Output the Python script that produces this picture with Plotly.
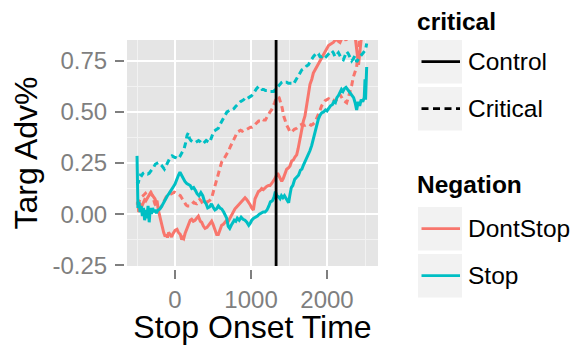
import plotly.graph_objects as go

# ---------------- data ----------------
DC_T = [-500,-488,-478,-465,-450,-434,-415,-400,-385,-368,
        -350,-330,-303,-285,-265,-250,-237,-220,-205,-193,
        -175,-160,-149,-130,-115,-100,-85,-65,-45,-25,
        0,26,45,70,88,100,114,132,155,175,
        200,219,240,263,285,307,333,351,375,395,
        421,440,461,482,500,526,548,570,592,614,
        636,658,680,702,724,746,768,789,811,833,
        855,877,899,921,945,965,990,1009,1031,1053,
        1075,1097,1118,1140,1162,1185,1206,1230,1250,1272,
        1294,1316,1335,1350,1370,1390,1404,1425,1447,1469,
        1490,1513,1535,1557,1580,1601,1620,1645,1667,1689,
        1710,1732,1755,1776,1800,1820,1842,1864,1886,1908,
        1930,1952,1975,1996,2020,2040,2060,2083,2105,2127,
        2150,2171,2195,2220,2250,2280,2310,2340,2370,2390,
        2405,2415,2430,2445,2470,2500,2520]
DC_V = [0.05,0.06,0.01,0.03,0.045,0.04,0.06,0.07,0.065,0.075,
        0.09,0.1,0.095,0.085,0.075,0.06,0.065,0.02,-0.005,-0.02,
        -0.06,-0.085,-0.09,-0.11,-0.1,-0.115,-0.09,-0.1,-0.112,-0.095,
        -0.08,-0.075,-0.09,-0.1,-0.125,-0.115,-0.12,-0.095,-0.07,-0.05,
        -0.03,-0.025,-0.035,-0.03,-0.02,-0.01,-0.035,-0.04,-0.06,-0.07,
        -0.065,-0.055,-0.04,-0.035,-0.05,-0.075,-0.1,-0.1,-0.08,-0.055,
        -0.05,-0.04,-0.03,-0.035,-0.02,-0.005,0.015,0.026,0.035,0.045,
        0.05,0.06,0.075,0.08,0.07,0.06,0.045,0.03,0.02,0.075,
        0.095,0.11,0.115,0.125,0.12,0.13,0.135,0.14,0.14,0.15,
        0.16,0.175,0.19,0.2,0.185,0.17,0.16,0.175,0.2,0.22,
        0.225,0.235,0.26,0.265,0.28,0.29,0.32,0.37,0.42,0.455,
        0.48,0.53,0.59,0.635,0.66,0.69,0.705,0.72,0.74,0.755,
        0.77,0.785,0.8,0.815,0.825,0.83,0.835,0.84,0.85,0.855,
        0.845,0.84,0.86,0.87,0.85,0.88,0.87,0.9,0.87,0.82,
        0.76,0.73,0.8,0.88,0.93,0.96,0.98]

DK_T = [-500,-480,-460,-440,-420,-400,-380,-360,-340,-320,
        -303,-285,-265,-245,-225,-205,-193,-175,-155,-135,
        -115,-95,-75,-55,-30,-10,4,25,45,70,
        95,120,145,165,180,200,225,245,265,285,
        305,325,345,365,385,405,420,440,460,482,
        505,526,548,570,592,614,636,660,684,705,
        728,750,772,794,816,840,862,884,904,926,
        948,970,992,1014,1035,1057,1080,1100,1122,1145,
        1167,1189,1210,1230,1250,1270,1290,1310,1330,1350,
        1370,1390,1410,1430,1450,1470,1491,1510,1530,1550,
        1570,1600,1625,1645,1670,1690,1715,1740,1765,1790,
        1815,1842,1865,1886,1910,1930,1955,1975,1996,2020,
        2040,2060,2083,2105,2127,2150,2171,2195,2215,2240,
        2259,2280,2303,2325,2346,2368,2390,2405,2415,2425,2440]
DK_V = [0.045,0.06,0.075,0.085,0.09,0.1,0.105,0.11,0.115,0.11,
        0.095,0.075,0.05,0.035,0.025,0.025,0.03,0.04,0.055,0.075,
        0.085,0.09,0.095,0.1,0.105,0.107,0.105,0.1,0.095,0.09,
        0.075,0.06,0.045,0.04,0.04,0.04,0.05,0.058,0.052,0.05,
        0.06,0.072,0.065,0.05,0.055,0.06,0.058,0.062,0.068,0.08,
        0.11,0.14,0.17,0.205,0.23,0.255,0.265,0.28,0.29,0.31,
        0.33,0.345,0.36,0.38,0.4,0.405,0.41,0.405,0.41,0.41,
        0.415,0.42,0.425,0.425,0.43,0.44,0.45,0.455,0.455,0.465,
        0.46,0.46,0.475,0.49,0.5,0.51,0.525,0.545,0.565,0.575,
        0.57,0.55,0.52,0.48,0.455,0.435,0.42,0.405,0.4,0.41,
        0.415,0.42,0.43,0.435,0.44,0.435,0.435,0.44,0.44,0.435,
        0.44,0.45,0.47,0.485,0.51,0.53,0.545,0.555,0.56,0.565,
        0.56,0.565,0.56,0.55,0.56,0.575,0.585,0.57,0.555,0.55,
        0.545,0.57,0.595,0.63,0.67,0.7,0.72,0.78,0.83,0.86,0.9]

SC_T = [-500,-488,-475,-460,-445,-430,-415,-400,-385,-370,
        -355,-340,-325,-310,-295,-280,-265,-245,-225,-200,
        -180,-160,-140,-120,-100,-80,-60,-40,-20,0,
        20,45,65,85,105,130,155,180,200,220,
        245,270,290,315,340,365,390,410,430,455,
        480,500,525,545,570,592,615,640,660,680,
        700,720,740,760,780,800,820,845,870,895,
        920,945,970,990,1010,1035,1060,1085,1110,1135,
        1160,1185,1210,1235,1255,1280,1300,1320,1340,1360,
        1382,1400,1420,1440,1460,1480,1495,1510,1530,1550,
        1575,1600,1625,1650,1670,1690,1710,1732,1755,1775,
        1798,1820,1842,1865,1886,1910,1930,1955,1980,2000,
        2020,2045,2070,2090,2110,2130,2150,2170,2190,2210,
        2230,2250,2270,2290,2310,2330,2350,2370,2390,2410,
        2430,2450,2470,2490,2500,2507,2513,2518,2522]
SC_V = [0.285,0.03,0.06,0.01,0.04,-0.01,0.03,-0.03,0.02,-0.02,
        0.04,-0.04,0.03,0.0,0.03,0.01,0.02,0.005,0.02,0.025,
        0.035,0.05,0.065,0.08,0.09,0.1,0.11,0.12,0.135,0.147,
        0.17,0.19,0.205,0.19,0.175,0.16,0.15,0.145,0.14,0.125,
        0.13,0.115,0.1,0.09,0.105,0.09,0.06,0.05,0.03,0.035,
        0.05,0.035,0.02,0.025,0.04,0.03,0.025,0.01,-0.005,-0.02,
        -0.06,-0.07,-0.055,-0.045,-0.03,-0.035,-0.02,-0.03,-0.015,-0.025,
        -0.03,-0.04,-0.055,-0.045,-0.03,-0.02,-0.015,-0.01,0.0,0.005,
        0.01,0.01,0.02,0.04,0.06,0.065,0.08,0.11,0.09,0.085,
        0.075,0.09,0.08,0.09,0.075,0.06,0.055,0.09,0.13,0.14,
        0.17,0.18,0.19,0.215,0.22,0.24,0.255,0.27,0.29,0.31,
        0.335,0.37,0.4,0.44,0.465,0.485,0.495,0.5,0.51,0.505,
        0.515,0.53,0.535,0.55,0.545,0.57,0.58,0.6,0.61,0.6,
        0.615,0.62,0.61,0.6,0.59,0.585,0.57,0.545,0.51,0.55,
        0.53,0.56,0.55,0.57,0.66,0.56,0.68,0.6,0.72]

SK_T = [-500,-485,-470,-455,-440,-420,-400,-380,-360,-340,
        -320,-300,-280,-260,-240,-220,-200,-180,-160,-140,
        -120,-100,-80,-60,-40,-20,0,20,40,60,
        80,100,120,140,158,175,190,210,230,250,
        270,290,310,330,350,370,390,410,430,450,
        465,485,509,530,550,570,595,618,640,662,
        684,705,728,750,772,794,816,838,860,882,
        904,926,948,969,990,1010,1030,1053,1075,1101,
        1122,1145,1167,1189,1210,1230,1250,1272,1298,1320,
        1340,1360,1382,1403,1425,1447,1469,1491,1513,1535,
        1557,1580,1601,1625,1645,1667,1689,1710,1732,1754,
        1776,1798,1820,1842,1864,1886,1908,1930,1952,1974,
        1996,2018,2039,2061,2083,2105,2127,2150,2171,2193,
        2215,2237,2259,2280,2303,2325,2346,2368,2390,2412,
        2434,2456,2478,2500,2512,2522]
SK_V = [0.16,0.15,0.175,0.19,0.188,0.2,0.204,0.2,0.196,0.2,
        0.21,0.215,0.23,0.244,0.25,0.252,0.245,0.24,0.23,0.22,
        0.235,0.25,0.265,0.28,0.285,0.28,0.277,0.275,0.27,0.28,
        0.295,0.31,0.32,0.35,0.385,0.398,0.37,0.36,0.355,0.355,
        0.35,0.355,0.36,0.355,0.345,0.345,0.355,0.36,0.355,0.35,
        0.36,0.385,0.405,0.41,0.415,0.42,0.44,0.455,0.475,0.49,
        0.5,0.505,0.51,0.51,0.515,0.525,0.535,0.545,0.55,0.555,
        0.56,0.57,0.565,0.57,0.575,0.58,0.59,0.605,0.615,0.625,
        0.62,0.61,0.61,0.605,0.605,0.6,0.6,0.6,0.6,0.61,
        0.62,0.625,0.635,0.645,0.65,0.645,0.645,0.64,0.64,0.64,
        0.635,0.65,0.665,0.68,0.695,0.705,0.71,0.715,0.725,0.73,
        0.745,0.76,0.77,0.78,0.79,0.785,0.77,0.77,0.775,0.765,
        0.775,0.785,0.79,0.8,0.79,0.77,0.78,0.79,0.775,0.76,
        0.755,0.775,0.795,0.785,0.77,0.75,0.76,0.775,0.745,0.76,
        0.77,0.78,0.79,0.8,0.815,0.835]

STOP_LINE_X = 1330
X_TICKS = [0, 1000, 2000]
X_TICK_LABELS = ["0", "1000", "2000"]
Y_TICKS = [-0.25, 0.0, 0.25, 0.5, 0.75]
Y_TICK_LABELS = ["-0.25", "0.00", "0.25", "0.50", "0.75"]
X_RANGE = [-632, 2671]
Y_RANGE = [-0.254, 0.852]

RED = "#F8766D"
TEAL = "#00BFC4"
FONT = "Liberation Sans, Arial, Helvetica, sans-serif"
DASH = "6px,4px"
LW = 3

# ---------------- geometry ----------------
# The page body has an 8px margin; the figure is sized so it fills the
# 579x345 window from that offset. Coordinates below are window pixels.
OFF = 8
W, H = 579 - OFF, 345 - OFF
PAPER_L, PAPER_R, PAPER_T, PAPER_B = 124, 378, 40, 269   # window px
ML = PAPER_L - OFF
MT = PAPER_T - OFF
MR = W - (PAPER_R - OFF)
MB = H - (PAPER_B - OFF)
PW, PH = PAPER_R - PAPER_L, PAPER_B - PAPER_T


def px_x(px):
    return (px - PAPER_L) / PW


def px_y(py):
    return (PAPER_B - py) / PH


fig = go.Figure()

series = [
    (DC_T, DC_V, RED, "solid"),
    (DK_T, DK_V, RED, DASH),
    (SC_T, SC_V, TEAL, "solid"),
    (SK_T, SK_V, TEAL, DASH),
]
for t, v, c, d in series:
    fig.add_trace(go.Scatter(x=t, y=v, mode="lines", showlegend=False,
                             line=dict(color=c, width=LW, dash=d),
                             hoverinfo="skip"))

fig.add_shape(type="line", xref="x", yref="y domain", x0=STOP_LINE_X,
              x1=STOP_LINE_X, y0=0, y1=1, line=dict(color="black", width=2.8))

axis_common = dict(
    showline=False, zeroline=False, ticks="outside", ticklen=9, tickwidth=2,
    tickcolor="#7F7F7F", gridcolor="white", gridwidth=2.4,
    tickfont=dict(family=FONT, size=24, color="#7F7F7F"),
    anchor="free", position=0, automargin=False,
)

fig.update_layout(
    width=W, height=H,
    margin=dict(l=ML, r=MR, t=MT, b=MB, pad=0, autoexpand=False),
    paper_bgcolor="white", plot_bgcolor="#E5E5E5",
    showlegend=False,
    font=dict(family=FONT, color="black"),
    xaxis=dict(axis_common, domain=[3 / PW, 1], range=X_RANGE,
               tickvals=X_TICKS, ticktext=X_TICK_LABELS,
               minor=dict(dtick=500, tick0=0, showgrid=True, gridcolor="#F2F2F2",
                          gridwidth=1.2, ticks=""),
               ticklabelstandoff=0,
               title=dict(text="Stop Onset Time", font=dict(family=FONT, size=32, color="black"),
                          standoff=2)),
    yaxis=dict(axis_common, domain=[3 / PH, 1], range=Y_RANGE,
               tickvals=Y_TICKS, ticktext=Y_TICK_LABELS,
               minor=dict(dtick=0.125, tick0=0, showgrid=True, gridcolor="#F2F2F2",
                          gridwidth=1.2, ticks=""),
               ticklabelstandoff=3,
               title=dict(text="Targ Adv%", font=dict(family=FONT, size=32, color="black"),
                          standoff=11)),
)

# ---------------- manual legend (ggplot style) ----------------
BOX_X0, BOX_X1 = 418, 462
LABEL_X = 469
LEG_FONT = 24.5
legend_groups = [
    ("critical", 21.5, [
        ("Control", 40, "black", "solid"),
        ("Critical", 87, "black", "7px,4.5px"),
    ]),
    ("Negation", 184, [
        ("DontStop", 207, RED, "solid"),
        ("Stop", 254, TEAL, "solid"),
    ]),
]
for title, ty, items in legend_groups:
    fig.add_annotation(xref="paper", yref="paper", x=px_x(BOX_X0 - 2), y=px_y(ty),
                       xanchor="left", yanchor="middle", showarrow=False, borderpad=0,
                       text="<b>%s</b>" % title,
                       font=dict(family=FONT, size=LEG_FONT, color="black"))
    for label, top, col, dash in items:
        fig.add_shape(type="rect", xref="paper", yref="paper",
                      x0=px_x(BOX_X0), x1=px_x(BOX_X1), y0=px_y(top), y1=px_y(top + 43.5),
                      fillcolor="#F2F2F2", line=dict(width=0), layer="below")
        mid = top + 21.7
        fig.add_shape(type="line", xref="paper", yref="paper",
                      x0=px_x(BOX_X0 + 3.5), x1=px_x(BOX_X1 - 2), y0=px_y(mid), y1=px_y(mid),
                      line=dict(color=col, width=2.8, dash=dash))
        fig.add_annotation(xref="paper", yref="paper", x=px_x(LABEL_X - 2), y=px_y(mid),
                           xanchor="left", yanchor="middle", showarrow=False, borderpad=0,
                           text=label, font=dict(family=FONT, size=LEG_FONT, color="black"))

fig.write_html("out.html")
